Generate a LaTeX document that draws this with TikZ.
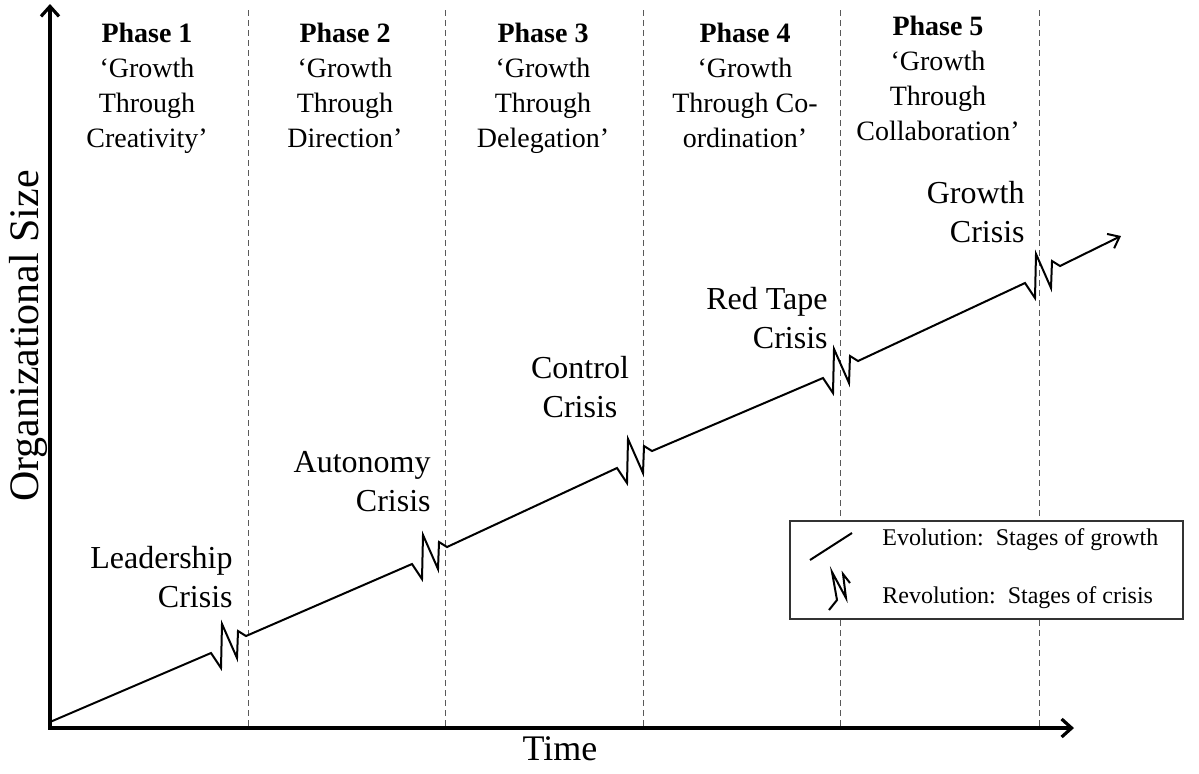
\documentclass[tikz,border=0pt]{standalone}
\usepackage{fontspec}
\setmainfont{Liberation Serif}
\usetikzlibrary{arrows.meta,positioning}

\begin{document}
\begin{tikzpicture}[
  x=0.5pt, y=-0.5pt,
  every node/.style={inner sep=0pt},
  phase/.style ={anchor=north, align=center,
                 font=\fontsize{14}{17.5}\selectfont},
  crisis/.style={anchor=north east, align=right,
                 font=\fontsize{16}{19.5}\selectfont},
  axlabel/.style={font=\fontsize{18}{22}\selectfont},
  legtext/.style={anchor=west, font=\fontsize{12}{14}\selectfont},
  legbox/.style={draw=black!80, line width=0.7pt, fill=white,
                 minimum width=196.5pt, minimum height=49pt},
  axis/.style  ={line width=1.6pt, -{Straight Barb[length=5pt,width=9pt]}},
  growth/.style={line width=1pt, line join=miter},
  arr/.style   ={growth, -{Straight Barb[length=5pt,width=8pt]}},
  divider/.style={densely dashed, black!65, line width=0.5pt},
  zig/.style={insert path={-- ++(10,15) -- ++(1,-44) -- ++(15,34)
                           -- ++(1,-27) -- ++(8,5)}}
]
\useasboundingbox (0,0) rectangle (1199,773);

\coordinate (origin) at (50,728);
\coordinate (ytop)   at (50,4);
\coordinate (xend)   at (1074,728);

\foreach \x [count=\i] in {248,445,643,840,1039}
  \draw[divider] (\x,10) coordinate (d\i) -- (\x,728);

\draw[axis] ([yshift=-0.8pt]origin) -- (ytop);
\draw[axis] ([xshift=-0.8pt]origin) -- (xend);

\node[axlabel, rotate=90, font=\fontsize{21}{25}\selectfont] (ylab)
     at (28,336) {Organizational Size};
\node[axlabel] (xlab) at (560,749) {Time};

\node[phase] (ph1) at (147,23) {\textbf{Phase 1}\\‘Growth\\Through\\Creativity’};
\node[phase] (ph2) at (345,23) {\textbf{Phase 2}\\‘Growth\\Through\\Direction’};
\node[phase] (ph3) at (543,23) {\textbf{Phase 3}\\‘Growth\\Through\\Delegation’};
\node[phase] (ph4) at (745,23) {\textbf{Phase 4}\\‘Growth\\Through Co-\\ordination’};
\node[phase] (ph5) at (938,16) {\textbf{Phase 5}\\‘Growth\\Through\\Collaboration’};

\coordinate (start) at (50,722);
\coordinate (c1) at (211,653);
\coordinate (c2) at (412,564);
\coordinate (c3) at (617,468);
\coordinate (c4) at (823,378);
\coordinate (c5) at (1025,283);
\coordinate (tip) at (1121,236);

\draw[arr] (start) -- (c1) [zig] -- (c2) [zig] -- (c3) [zig]
           -- (c4) [zig] -- (c5) [zig] -- (tip);

\node[crisis] (lead) at (233,546) {Leadership\\Crisis};
\node[crisis] (auto) at (431,451) {Autonomy\\Crisis};
\node[crisis, anchor=north, align=center] (ctrl) at (580,356) {Control\\Crisis};
\node[crisis] (red)  at (828,287) {Red Tape\\Crisis};
\node[crisis] (grow) at (1025,181) {Growth\\Crisis};

\node[legbox] (leg) at (986.5,570) {};
\coordinate (ev1) at (810,560);
\coordinate (ev2) at (852,533);
\draw[growth] (ev1) -- (ev2);
\coordinate (rv) at (829,610);
\draw[growth] (rv) -- ++(8,-10) -- ++(-5,-28) -- ++(14,26)
              -- ++(-3,-24) -- ++(7,9);
\node[legtext] (evtext) at (882,540) {Evolution:\ \ Stages of growth};
\node[legtext] (rvtext) at (882,598) {Revolution:\ \ Stages of crisis};

\end{tikzpicture}
\end{document}
